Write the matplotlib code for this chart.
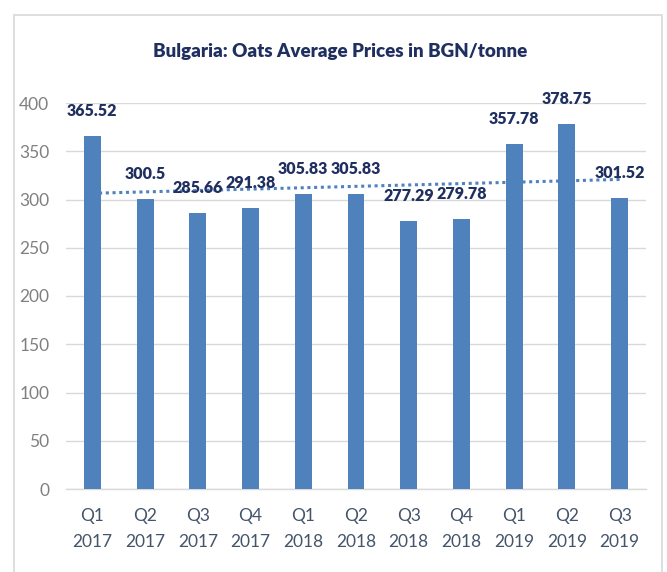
import numpy as np
import matplotlib
matplotlib.use("Agg")
import matplotlib.pyplot as plt
from matplotlib.patches import Rectangle

quarters = ["Q1", "Q2", "Q3", "Q4", "Q1", "Q2", "Q3", "Q4", "Q1", "Q2", "Q3"]
years = ["2017", "2017", "2017", "2017", "2018", "2018", "2018", "2018", "2019", "2019", "2019"]
prices = [365.52, 300.5, 285.66, 291.38, 305.83, 305.83, 277.29, 279.78, 357.78, 378.75, 301.52]
labels = ["365.52", "300.5", "285.66", "291.38", "305.83", "305.83", "277.29", "279.78", "357.78", "378.75", "301.52"]
yticks = [0, 50, 100, 150, 200, 250, 300, 350, 400]

FAM = ["Lato", "DejaVu Sans"]
plt.rcParams['font.family'] = FAM

W, H = 667, 572
fig = plt.figure(figsize=(W / 100, H / 100), dpi=100)
fig.patch.set_facecolor("white")

# outer chart border
fig.add_artist(Rectangle((14 / W, -0.01), (662 - 14) / W, 1 - 15 / H + 0.01,
                         transform=fig.transFigure, fill=False,
                         edgecolor="#D9D9D9", lw=1.2))

ax = fig.add_axes([66 / W, 1 - 489 / H, (646 - 66) / W, (489 - 103) / H])
x = np.arange(len(prices))
bar_color = "#4F81BD"

ax.set_axisbelow(True)
ax.yaxis.grid(True, color="#D9D9D9", lw=1)
ax.bar(x, prices, width=0.32, color=bar_color, zorder=3)

# linear trendline
coef = np.polyfit(x, prices, 1)
ax.plot(x, np.polyval(coef, x), linestyle=(0, (1, 1.2)), color=bar_color, lw=2.2, zorder=2)

for xi, v, lab in zip(x, prices, labels):
    ax.annotate(lab, (xi, v), xytext=(0, 18), textcoords="offset points",
                ha="center", va="center", fontsize=11.5, fontweight="heavy",
                color="#1F2F5F", annotation_clip=False, zorder=5)

ax.set_xlim(-0.5, len(prices) - 0.5)
ax.set_ylim(0, 400)
ax.set_yticks(yticks)
ax.set_yticklabels([str(t) for t in yticks], fontsize=12.5, color="#808080")
ax.set_xticks(x)
ax.set_xticklabels([f"{q}\n{y}" for q, y in zip(quarters, years)], fontsize=12.5,
                   color="#44546A", linespacing=1.7)
ax.tick_params(axis="both", length=0)
ax.tick_params(axis="x", pad=14)
ax.tick_params(axis="y", pad=12)
for s in ["top", "right", "left"]:
    ax.spines[s].set_visible(False)
ax.spines["bottom"].set_color("#D9D9D9")
ax.spines["bottom"].set_linewidth(1)

fig.text(340 / W, 1 - 52 / H, "Bulgaria: Oats Average Prices in BGN/tonne",
         ha="center", va="center", fontsize=13.5, fontweight="heavy", color="#1F2F5F")

fig.savefig("out.png", dpi=100)
